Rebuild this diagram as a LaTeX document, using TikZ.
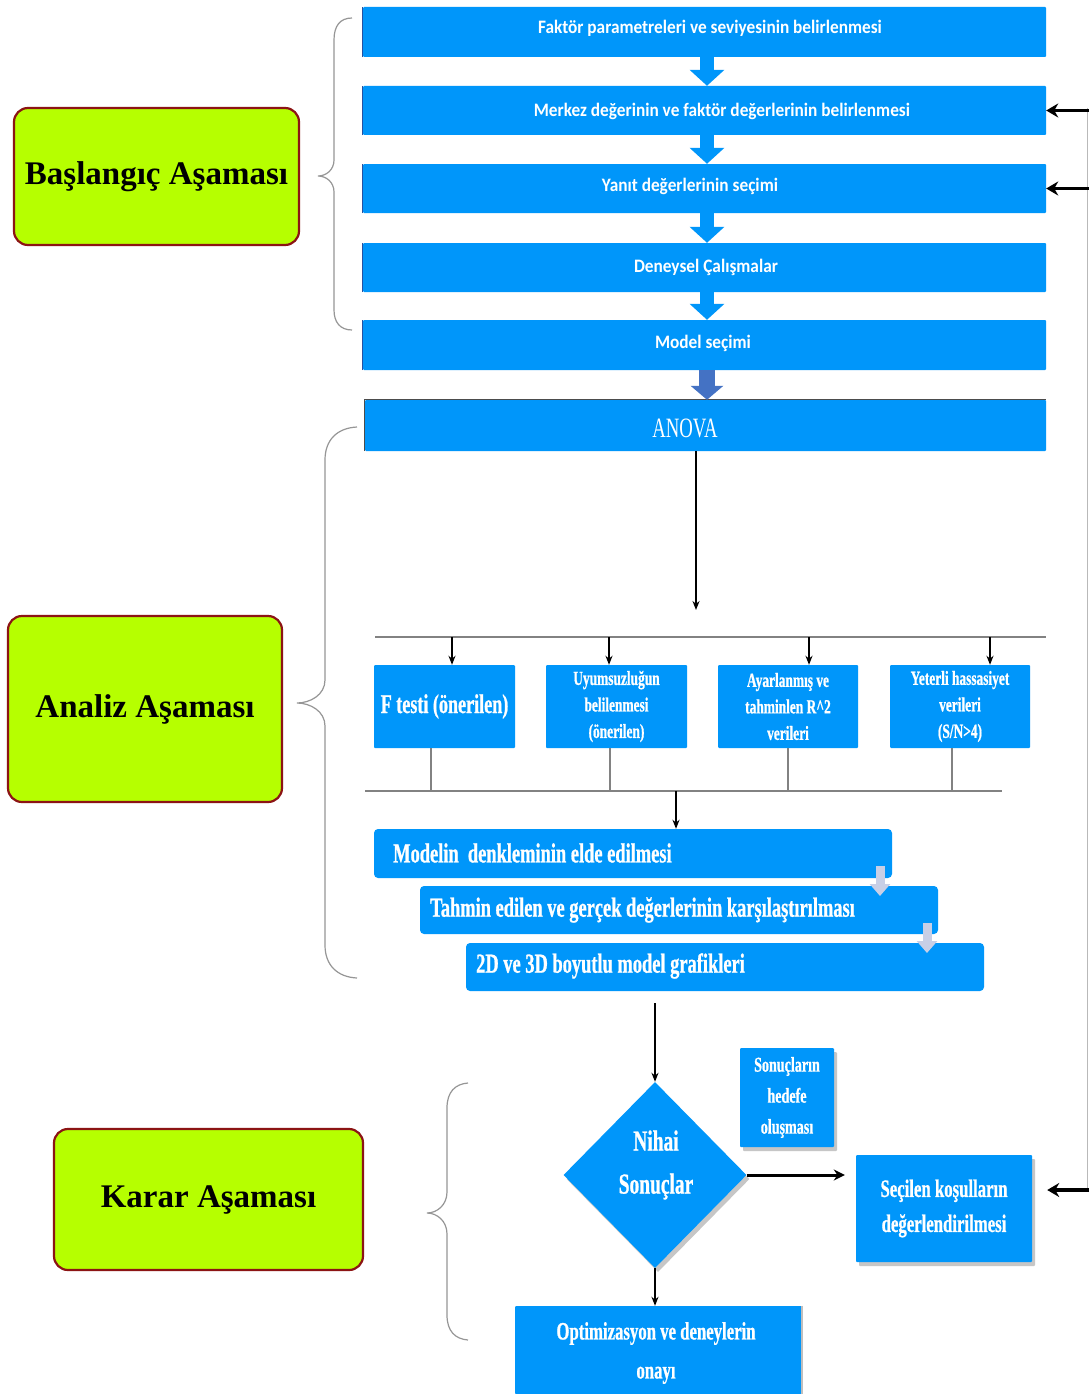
\documentclass[tikz,border=0pt]{standalone}
\usepackage{fontspec}
\setmainfont{Liberation Serif}
\newfontfamily\calibfont[FakeStretch=0.91]{Carlito}
\newfontfamily\narrowserif[FakeStretch=0.67,FakeBold=0.8]{Liberation Serif}
\newfontfamily\anovafont[FakeStretch=0.67]{Liberation Serif}
\usetikzlibrary{arrows.meta,shapes.geometric,shadows}

\definecolor{flowblue}{RGB}{0,150,250}
\definecolor{edgeblue}{RGB}{40,80,160}
\definecolor{darkarrow}{RGB}{68,114,196}
\definecolor{phasegreen}{RGB}{182,255,0}
\definecolor{phaseborder}{RGB}{140,20,20}
\definecolor{paleblue}{RGB}{200,207,230}
\definecolor{busgray}{RGB}{130,130,130}
\definecolor{bracegray}{RGB}{150,150,150}

\begin{document}
\begin{tikzpicture}[x=1pt,y=-1pt,
  bluebox/.style={fill=flowblue, draw=none, inner sep=0pt, rounded corners=1pt},
  shadowbox/.style={bluebox, drop shadow={shadow xshift=3pt, shadow yshift=-4pt, fill=gray!45, opacity=1}},
  toptext/.style={text=white, inner sep=0pt, font=\calibfont\bfseries\fontsize{19}{22}\selectfont},
  testtext/.style={text=white, align=center, font=\narrowserif\bfseries\fontsize{20}{26.5}\selectfont},
  modeltext/.style={text=white, inner sep=0pt, anchor=west, font=\narrowserif\bfseries\fontsize{27.5}{30}\selectfont},
  phase/.style={fill=phasegreen, draw=phaseborder, line width=2.2pt, rounded corners=14pt,
    inner sep=0pt, font=\bfseries\fontsize{33}{36}\selectfont},
  blockarrow/.style={flowblue, line width=14pt, -{Triangle[width=34pt,length=16pt]}},
  darkblock/.style={darkarrow, line width=16pt, -{Triangle[width=32pt,length=14pt]}},
  palearrow/.style={paleblue, line width=9pt, -{Triangle[width=20pt,length=12pt]}},
  thinarrow/.style={black, line width=1.6pt, -{Stealth[length=9pt,width=7pt]}},
  midarrow/.style={black, line width=3pt, -{Stealth[length=11pt,width=11pt]}},
  fbarrow/.style={black, line width=3.5pt, -{Stealth[length=12pt,width=14pt]}},
  bus/.style={busgray, line width=2.2pt},
  stub/.style={busgray, line width=1.3pt},
  bracket/.style={bracegray, line width=1.2pt}
]
\useasboundingbox (0,0) rectangle (1089,1394);
\fill[white] (0,0) rectangle (1089,1394);

% ---------- start phase: sequential steps ----------
\node[bluebox, minimum width=683pt, minimum height=50pt] (b1) at (704.5,32) {};
\node[bluebox, minimum width=683pt, minimum height=49pt] (b2) at (704.5,110.5) {};
\node[bluebox, minimum width=683pt, minimum height=49pt] (b3) at (704.5,188.5) {};
\node[bluebox, minimum width=683pt, minimum height=49pt] (b4) at (704.5,267.5) {};
\node[bluebox, minimum width=683pt, minimum height=50pt] (b5) at (704.5,345) {};
\foreach \b in {b1,b2,b3,b4,b5}
  \draw[edgeblue, line width=1.2pt] (\b.south west) -- (\b.north west);

\node[toptext] (b1t) at (710,28) {Faktör parametreleri ve seviyesinin belirlenmesi};
\node[toptext] (b2t) at (722,111) {Merkez değerinin ve faktör değerlerinin belirlenmesi};
\node[toptext] (b3t) at (690,186) {Yanıt değerlerinin seçimi};
\node[toptext] (b4t) at (706,267) {Deneysel Çalışmalar};
\node[toptext] (b5t) at (703,343) {Model seçimi};

\node[bluebox, minimum width=681pt, minimum height=51pt] (anova) at (705.5,425.5) {};
\draw[gray!60!black, line width=0.8pt] (anova.south west) -- (anova.north west) -- (anova.north east);
\node[text=white, inner sep=0pt, font=\anovafont\fontsize{28}{30}\selectfont] (anovat) at (685,428) {ANOVA};

\coordinate (ax) at (707,0);
\draw[blockarrow] (ax |- b1.south) -- (ax |- b2.north);
\draw[blockarrow] (ax |- b2.south) -- (ax |- b3.north);
\draw[blockarrow] (ax |- b3.south) -- (ax |- b4.north);
\draw[blockarrow] (ax |- b4.south) -- (ax |- b5.north);
\draw[darkblock] (ax |- b5.south) -- (ax |- anova.north);

% ---------- analysis phase ----------
\coordinate (anovaEnd) at (696,610);
\draw[thinarrow] (anovaEnd |- anova.south) -- (anovaEnd);

\node[bluebox, minimum width=141pt, minimum height=83pt, testtext, font=\narrowserif\bfseries\fontsize{27}{30}\selectfont] (a1) at (444.5,706.5) {F testi (önerilen)};
\node[bluebox, minimum width=141pt, minimum height=83pt, testtext] (a2) at (616.5,706.5) {Uyumsuzluğun\\belilenmesi\\(önerilen)};
\node[bluebox, minimum width=140pt, minimum height=83pt, testtext] (a3) at (788,706.5) {Ayarlanmış ve\\tahminlen R\textasciicircum{}2\\verileri};
\node[bluebox, minimum width=140pt, minimum height=83pt, testtext] (a4) at (960,706.5) {Yeterli hassasiyet\\verileri\\(S/N>4)};

\coordinate (busTL) at (375,637);
\coordinate (busTR) at (1046,637);
\draw[bus] (busTL) -- (busTR);
\coordinate (d1) at (452,637);
\coordinate (d2) at (609,637);
\coordinate (d3) at (809,637);
\coordinate (d4) at (990,637);
\draw[thinarrow] (d1) -- (d1 |- a1.north);
\draw[thinarrow] (d2) -- (d2 |- a2.north);
\draw[thinarrow] (d3) -- (d3 |- a3.north);
\draw[thinarrow] (d4) -- (d4 |- a4.north);

\coordinate (busBL) at (365,791);
\coordinate (busBR) at (1002,791);
\coordinate (u1) at (431,791);
\coordinate (u2) at (610,791);
\coordinate (u3) at (788,791);
\coordinate (u4) at (952,791);
\draw[stub] (u1 |- a1.south) -- (u1);
\draw[stub] (u2 |- a2.south) -- (u2);
\draw[stub] (u3 |- a3.south) -- (u3);
\draw[stub] (u4 |- a4.south) -- (u4);
\draw[bus] (busBL) -- (busBR);

\node[bluebox, rounded corners=4pt, minimum width=518pt, minimum height=49pt] (m1) at (633,853.5) {};
\node[bluebox, rounded corners=4pt, minimum width=518pt, minimum height=48pt] (m2) at (679,910) {};
\node[bluebox, rounded corners=4pt, minimum width=518pt, minimum height=48pt] (m3) at (725,967) {};
\node[modeltext] (m1t) at (393,853) {Modelin~ denkleminin elde edilmesi};
\node[modeltext] (m2t) at (430,910) {Tahmin edilen ve gerçek değerlerinin karşılaştırılması};
\node[modeltext] (m3t) at (476,966) {2D ve 3D boyutlu model grafikleri};

\coordinate (busOut) at (676,791);
\draw[thinarrow] (busOut) -- (busOut |- m1.north);

\coordinate (p1a) at (880,866);
\coordinate (p1b) at (880,896);
\coordinate (p2a) at (927,923);
\coordinate (p2b) at (927,953);
\draw[palearrow] (p1a) -- (p1b);
\draw[palearrow] (p2a) -- (p2b);

% ---------- decision phase ----------
\node[diamond, aspect=1, fill=flowblue, inner sep=0pt, minimum width=183pt, minimum height=186pt,
  drop shadow={shadow xshift=3pt, shadow yshift=-4pt, fill=gray!45, opacity=1}] (dia) at (655,1175) {};
\node[text=white, align=center, inner sep=0pt,
  font=\narrowserif\bfseries\fontsize{29}{43}\selectfont] (diat) at (656,1165) {Nihai\\Sonuçlar};

\coordinate (m3out) at (655,1003);
\draw[thinarrow] (m3out) -- (dia.north);

\node[shadowbox, minimum width=94pt, minimum height=99pt, text=white, align=center,
  font=\narrowserif\bfseries\fontsize{21}{31}\selectfont] (son) at (787,1097.5) {Sonuçların\\hedefe\\oluşması};

\node[shadowbox, minimum width=176pt, minimum height=107pt, text=white, align=center,
  font=\narrowserif\bfseries\fontsize{25}{35}\selectfont] (sec) at (944,1208.5) {Seçilen koşulların\\değerlendirilmesi};

\node[bluebox, minimum width=287pt, minimum height=88pt] (opt) at (658.5,1350) {};
\node[text=white, align=center, inner sep=0pt,
  font=\narrowserif\bfseries\fontsize{25}{39}\selectfont] (optt) at (656,1353) {Optimizasyon ve deneylerin\\onayı};
\draw[gray!50, line width=1.5pt] (opt.north east) -- (opt.south east);

\draw[midarrow, shorten >=11pt] (dia.east) -- (dia.east -| sec.west);
\draw[thinarrow] (dia.south) -- (dia.south |- opt.north);

% ---------- feedback line on the right ----------
\coordinate (fbtop) at (1087.5,108);
\coordinate (fbbot) at (1087.5,1190);
\draw[gray!55, line width=1pt] (fbtop) -- (fbbot);
\coordinate (fbx) at (1089,0);
\draw[fbarrow] (fbx |- b2.east) -- (b2.east);
\draw[fbarrow] (fbx |- b3.east) -- (b3.east);
\coordinate (fbc) at (1089,1190);
\draw[fbarrow, shorten >=15pt] (fbc) -- (fbc -| sec.east);

% ---------- phase labels and braces ----------
\node[phase, minimum width=285pt, minimum height=137pt] (ph1) at (156.5,176.5) {Başlangıç Aşaması};
\node[phase, minimum width=274pt, minimum height=186pt] (ph2) at (145,709) {Analiz Aşaması};
\node[phase, minimum width=309pt, minimum height=141pt] (ph3) at (208.5,1199.5) {Karar Aşaması};

\draw[bracket] (352,18) .. controls (340,18) and (334,26) .. (334,40) -- (334,160)
  .. controls (334,170) and (326,176) .. (318,176)
  .. controls (326,176) and (334,182) .. (334,192) -- (334,310)
  .. controls (334,322) and (340,330) .. (352,330);
\draw[bracket] (357,427) .. controls (337,428) and (325,440) .. (325,460) -- (325,680)
  .. controls (325,695) and (310,703) .. (297,703)
  .. controls (310,703) and (325,711) .. (325,726) -- (325,945)
  .. controls (325,965) and (337,977) .. (357,978);
\draw[bracket] (468,1083) .. controls (455,1084) and (447,1092) .. (447,1108) -- (447,1192)
  .. controls (447,1205) and (437,1213) .. (427,1213)
  .. controls (437,1213) and (447,1221) .. (447,1234) -- (447,1315)
  .. controls (447,1331) and (455,1339) .. (468,1340);
\end{tikzpicture}
\end{document}
